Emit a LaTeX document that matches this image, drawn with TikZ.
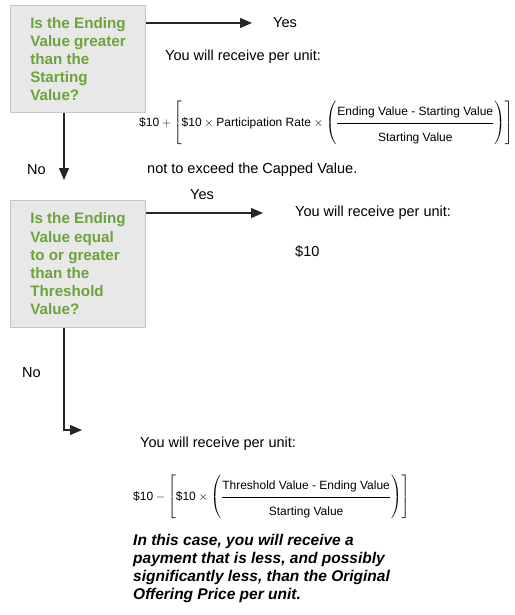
\documentclass[tikz,border=0pt]{standalone}
\usepackage{amsmath}
\usepackage{fontspec}
\setmainfont{Liberation Sans}
\usepackage{tikz}
\usetikzlibrary{arrows.meta}
\usepackage{xcolor}

\definecolor{qgreen}{RGB}{106,164,58}
\definecolor{qfill}{RGB}{232,232,232}
\definecolor{qline}{RGB}{198,198,198}

\tikzset{
	question/.style={draw=qline, fill=qfill, line width=1pt, anchor=north west, align=left,
		minimum width=135pt, text=qgreen, font=\fontsize{15.2}{18.2}\selectfont\bfseries},
	flow/.style={-{Triangle[length=12pt,width=10pt]}, line width=1.2pt, color=black!85},
	txt/.style={anchor=west, inner sep=0pt, font=\fontsize{14.5}{17}\selectfont},
	formula/.style={anchor=west, inner sep=0pt, font=\fontsize{12}{14}\selectfont},
}

\begin{document}
\begin{tikzpicture}[x=1pt, y=-1pt]
				\path[use as bounding box, fill=white] (0,0) rectangle (514,615);
				\node[question, minimum height=107pt] (q1) at (10,5) {Is the Ending\\Value greater\\than the\\Starting\\Value?};
				\node[question, minimum height=127pt] (q2) at (10,200) {Is the Ending\\Value equal\\to or greater\\than the\\Threshold\\Value?};
				\node[txt] (yes1) at (273,23) {Yes};
				\node[txt] (rec1) at (165,57) {You will receive per unit:};
				\node[formula] (f1) at (139,123) {$\text{\$10} + \left[\text{\$10}\times\text{Participation Rate}\times\left(\dfrac{\text{Ending Value - Starting Value}\rule[-6pt]{0pt}{6pt}}{\rule{0pt}{17pt}\text{Starting Value}}\right)\right]$};
				\node[txt] (cap) at (147,170) {not to exceed the Capped Value.};
				\node[txt] (no1) at (27,170) {No};
				\node[txt] (yes2) at (190,195) {Yes};
				\node[txt] (rec2) at (295,213) {You will receive per unit:};
				\node[txt] (ten) at (295,252) {\$10};
				\node[txt] (no2) at (22,373) {No};
				\node[txt] (rec3) at (140,444) {You will receive per unit:};
				\node[formula] (f2) at (133,497) {$\text{\$10} - \left[\text{\$10}\times\left(\dfrac{\text{Threshold Value - Ending Value}\rule[-6pt]{0pt}{6pt}}{\rule{0pt}{17pt}\text{Starting Value}}\right)\right]$};
				\node[anchor=north west, inner sep=0pt, align=left, font=\fontsize{15.5}{18}\selectfont\bfseries\itshape] (warn) at (133,534) {In this case, you will receive a\\payment that is less, and possibly\\significantly less, than the Original\\Offering Price per unit.};
				\coordinate (t1) at (252,23);
				\coordinate (t2) at (64,180);
				\coordinate (t3) at (263,213);
				\coordinate (c4) at (64,430);
				\coordinate (t4) at (82,430);
				\draw[flow] (q1.east |- t1) -- (t1);
				\draw[flow] (q1.south -| t2) -- (t2);
				\draw[flow] (q2.east |- t3) -- (t3);
				\draw[flow] (q2.south -| c4) -- (c4) -- (t4);
\end{tikzpicture}
\end{document}
